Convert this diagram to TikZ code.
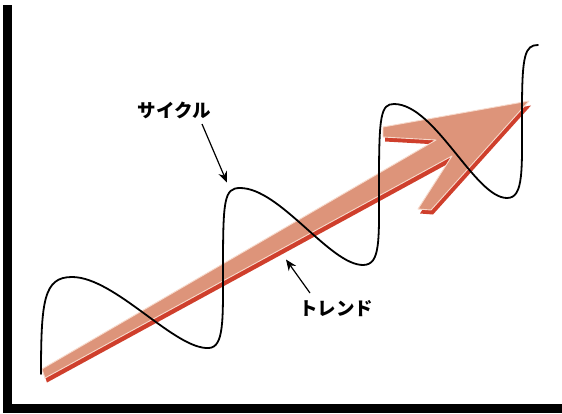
\documentclass[tikz,border=0pt]{standalone}
\usepackage{fontspec}
\newfontfamily\cjk{Noto Sans CJK JP}
\usetikzlibrary{arrows.meta}
\definecolor{salmon}{HTML}{DD947A}
\definecolor{shadowred}{HTML}{CF3F2C}
\definecolor{edgelight}{HTML}{F7D9CB}
\begin{document}
\begin{tikzpicture}[x=1pt,y=-1pt,
  lbl/.style={font=\cjk\bfseries\fontsize{18.5}{20}\selectfont, inner sep=0pt},
  callout/.style={-{Stealth[length=11pt,width=9pt]}, line width=1.2pt},
  axisbar/.style={fill=black},
  wave/.style={line width=1.8pt, line cap=round, line join=round},
  trendshadow/.style={fill=shadowred},
  trendbody/.style={fill=salmon, draw=edgelight, line width=0.9pt, line join=round}]
\useasboundingbox (0,0) rectangle (562,413);
\fill[white] (0,0) rectangle (562,413);
% axes
\fill[axisbar] (3,5) rectangle (12,412.5);
\fill[axisbar] (3,404) rectangle (562,412.5);
% trend arrow (shadow then body)
\def\trendpath{(42,369) -- (436,140) -- (383,137) -- (383,127) -- (529,101) -- (431,210) -- (418,209) -- (452,156) -- (45,378) -- cycle}
\fill[trendshadow, shift={(2,4.5)}] \trendpath;
\filldraw[trendbody] \trendpath;
% cycle wave
\draw[wave] (41,374) .. controls (41,300) and (44,277) .. (72,277)
  .. controls (115,277) and (175,350) .. (209,348)
  .. controls (224,347) and (223,320) .. (223,270)
  .. controls (223,200) and (224,188) .. (240,188)
  .. controls (280,188) and (330,265) .. (363,265)
  .. controls (381,265) and (379,240) .. (379,180)
  .. controls (379,115) and (381,104) .. (394,104)
  .. controls (435,104) and (475,198) .. (507,198)
  .. controls (524,198) and (522,170) .. (522,110)
  .. controls (522,55) and (525,45) .. (538,45);
% labels
\node[lbl] (cyc) at (174.5,110) {サイクル};
\node[lbl] (trend) at (336,309) {トレンド};
\coordinate (cycfrom) at (202,124);
\coordinate (cyctip) at (227,182.5);
\coordinate (trfrom) at (310,293);
\coordinate (trtip) at (286,259.5);
\draw[callout] (cycfrom) -- (cyctip);
\draw[callout] (trfrom) -- (trtip);
\end{tikzpicture}
\end{document}
